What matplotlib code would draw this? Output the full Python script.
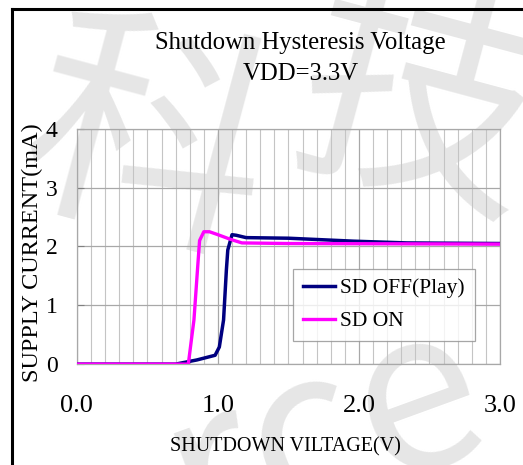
import matplotlib.pyplot as plt
from matplotlib.lines import Line2D
from matplotlib.ticker import MultipleLocator

# data
v_off = [0.0, 0.70, 0.85, 0.98, 1.01, 1.04, 1.06, 1.07, 1.10, 1.13, 1.20, 1.50, 1.96, 2.34, 3.0]
i_off = [0.0, 0.0, 0.07, 0.15, 0.29, 0.75, 1.60, 1.94, 2.20, 2.19, 2.15, 2.14, 2.09, 2.06, 2.05]

v_on = [0.0, 0.79, 0.83, 0.86, 0.87, 0.90, 0.94, 1.00, 1.09, 1.17, 1.49, 3.0]
i_on = [0.0, 0.0, 0.75, 1.77, 2.10, 2.25, 2.25, 2.20, 2.12, 2.06, 2.05, 2.04]

x_ticks = [0, 1, 2, 3]
x_labels = ['0.0', '1.0', '2.0', '3.0']
y_ticks = [0, 1, 2, 3, 4]

plt.rcParams['font.family'] = ['Liberation Serif', 'DejaVu Serif']

fig = plt.figure(figsize=(5.23, 4.65), dpi=100)

# faint watermark behind the chart
wm = dict(color='#e6e6e6', ha='center', va='center', zorder=-5,
          family=['Noto Sans CJK SC', 'DejaVu Sans'])
fig.text(0.28, 0.68, '科', fontsize=175, rotation=-15, **wm)
fig.text(0.80, 0.76, '技', fontsize=175, rotation=-15, **wm)
fig.text(0.62, 0.07, 'rce', fontsize=160, rotation=20, **wm)

ax = fig.add_axes([0.147, 0.217, 0.809, 0.506])
ax.set_facecolor('none')

ax.plot(v_off, i_off, color='#000080', lw=2.5, label='SD OFF(Play)', zorder=3)
ax.plot(v_on, i_on, color='#ff00ff', lw=2.4, label='SD ON', zorder=4)

ax.set_xlim(0, 3)
ax.set_ylim(0, 4)
ax.set_xticks(x_ticks)
ax.set_xticklabels(x_labels)
ax.set_yticks(y_ticks)
ax.xaxis.set_minor_locator(MultipleLocator(0.1))
ax.grid(True, which='major', color='#a8a8a8', lw=0.9)
ax.grid(True, which='minor', axis='x', color='#c4c4c4', lw=0.8)
ax.tick_params(axis='x', which='both', length=0, pad=22, labelsize=19)
ax.tick_params(axis='y', direction='in', length=5, color='#808080', pad=14, labelsize=17)
for s in ax.spines.values():
    s.set_color('#a8a8a8')
    s.set_linewidth(0.9)

leg = ax.legend(loc='lower left', bbox_to_anchor=(0.511, 0.098), fontsize=15.5,
                frameon=True, fancybox=False, edgecolor='#909090',
                handlelength=1.5, handletextpad=0.25, labelspacing=0.6,
                borderpad=0.45, borderaxespad=0)
leg.get_frame().set_linewidth(0.9)

fig.text(0.575, 0.908, 'Shutdown Hysteresis Voltage', ha='center', va='center', fontsize=17.8)
fig.text(0.575, 0.840, 'VDD=3.3V', ha='center', va='center', fontsize=17.8)
fig.text(0.063, 0.456, 'SUPPLY CURRENT(mA)', ha='center', va='center',
         rotation=90, fontsize=17.5)
fig.text(0.545, 0.040, 'SHUTDOWN VILTAGE(V)', ha='center', va='center', fontsize=14.5)

# page frame (left and top edges)
fig.add_artist(Line2D([12 / 523, 12 / 523], [0, 1 - 9 / 465], color='black', lw=2.2,
                      transform=fig.transFigure))
fig.add_artist(Line2D([12 / 523, 1], [1 - 9 / 465, 1 - 9 / 465], color='black', lw=2.2,
                      transform=fig.transFigure))

fig.savefig('out.png', dpi=100)
